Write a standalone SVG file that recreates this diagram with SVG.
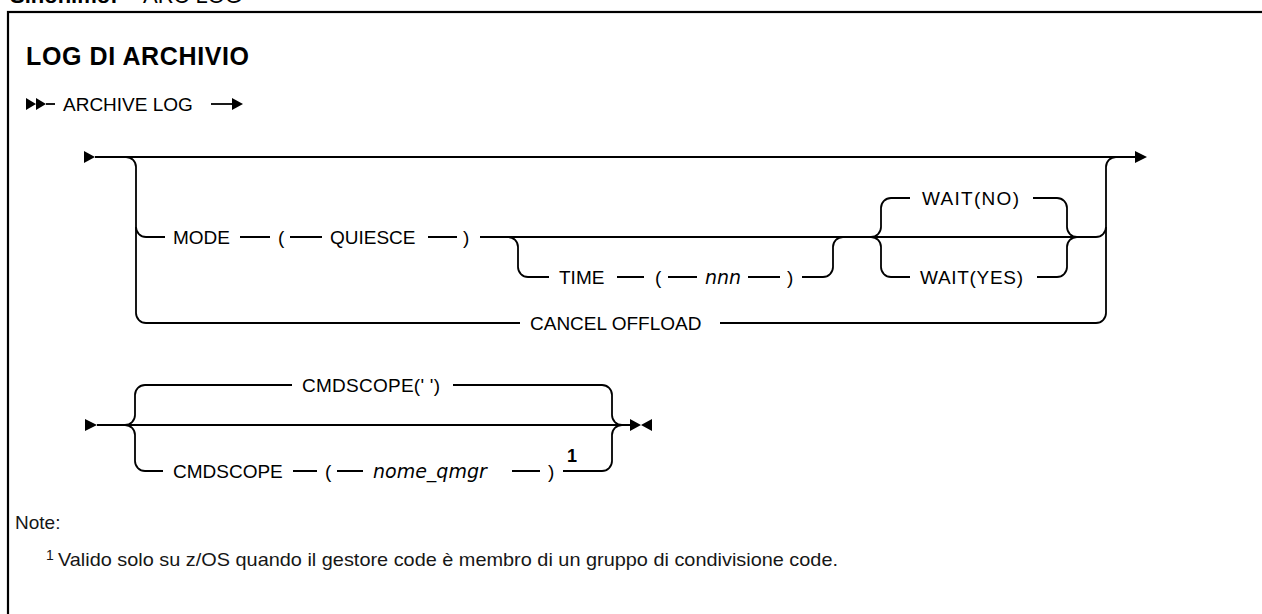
<svg xmlns="http://www.w3.org/2000/svg" width="1262" height="614" viewBox="0 0 1262 614">
<style>
.t{font-family:"Liberation Sans",Arial,sans-serif;font-size:19px;fill:#000}
.i{font-family:"DejaVu Sans",sans-serif;font-style:italic;font-size:19px;fill:#000}
.b{font-weight:bold}
.n{font-family:"Liberation Sans",Arial,sans-serif;font-size:19px;fill:#161616}
.c{fill:none;stroke:#000;stroke-width:1.8}
.h{fill:#000}
</style>
<rect x="8" y="12" width="1262" height="620" fill="none" stroke="#000" stroke-width="2.2"/>
<g id="synonym">
<text x="10" y="3" class="t b" style="font-size:22px">Sinonimo:</text>
<text x="143" y="3" class="t" style="font-size:22px">ARC LOG</text>
</g>
<g id="title"><text x="26" y="65" class="t b" style="font-size:25px" textLength="223">LOG DI ARCHIVIO</text></g>
<g id="connectors">
<path class="h" d="M26,98 L36,104 L26,110 Z M36,98 L46,104 L36,110 Z"/>
<path class="c" d="M46,104 H55"/>
<path class="c" d="M211,104 H233"/>
<path class="h" d="M232,98 L243,104 L232,110 Z"/>
<path class="h" d="M84,151 L95,157 L84,163 Z"/>
<path class="c" d="M95,157 H1136"/>
<path class="h" d="M1135,151 L1147,157 L1135,163 Z"/>
<path class="c" d="M126,157 A10,10 0 0 1 136,167 V313 A10,10 0 0 0 146,323 H520"/>
<path class="c" d="M720,323 H1096 A10,10 0 0 0 1106,313 V167 A10,10 0 0 1 1116,157"/>
<path class="c" d="M136,227 A10,10 0 0 0 146,237 H165"/>
<path class="c" d="M240,237 H270 M290,237 H322 M428,237 H457"/>
<path class="c" d="M480,237 H1096 A10,10 0 0 0 1106,227"/>
<path class="c" d="M508,237 A10,10 0 0 1 518,247 V267 A10,10 0 0 0 528,277 H549"/>
<path class="c" d="M617,277 H644 M668,277 H697 M748,277 H780"/>
<path class="c" d="M802,277 H823 A10,10 0 0 0 833,267 V247 A10,10 0 0 1 843,237"/>
<path class="c" d="M871,237 A10,10 0 0 0 881,227 V208 A10,10 0 0 1 891,198 H910"/>
<path class="c" d="M871,237 A10,10 0 0 1 881,247 V267 A10,10 0 0 0 891,277 H910"/>
<path class="c" d="M1033,198 H1057 A10,10 0 0 1 1067,208 V227 A10,10 0 0 0 1077,237"/>
<path class="c" d="M1037,277 H1057 A10,10 0 0 0 1067,267 V247 A10,10 0 0 1 1077,237"/>
<path class="h" d="M85,419 L97,425 L85,431 Z"/>
<path class="c" d="M97,425 H631"/>
<path class="h" d="M630,419 L641,425 L630,431 Z M652,419 L641,425 L652,431 Z"/>
<path class="c" d="M125,425 A10,10 0 0 0 135,415 V395 A10,10 0 0 1 145,385 H292"/>
<path class="c" d="M453,385 H602 A10,10 0 0 1 612,395 V415 A10,10 0 0 0 622,425"/>
<path class="c" d="M125,425 A10,10 0 0 1 135,435 V461 A10,10 0 0 0 145,471 H163"/>
<path class="c" d="M293,471 H317 M337,471 H363 M512,471 H540"/>
<path class="c" d="M563,471 H602 A10,10 0 0 0 612,461 V435 A10,10 0 0 1 622,425"/>
</g>
<g id="archive-log"><text x="63" y="111" class="t">ARCHIVE LOG</text></g>
<g id="mode">
<text x="173" y="244" class="t">MODE</text>
<text x="278" y="244" class="t">(</text>
<text x="330" y="244" class="t">QUIESCE</text>
<text x="463" y="244" class="t">)</text>
</g>
<g id="time">
<text x="559" y="284" class="t">TIME</text>
<text x="655" y="284" class="t">(</text>
<text x="705" y="284" class="i">nnn</text>
<text x="787" y="284" class="t">)</text>
</g>
<g id="wait-no"><text x="922" y="205" class="t" textLength="97">WAIT(NO)</text></g>
<g id="wait-yes"><text x="920" y="284" class="t" textLength="103">WAIT(YES)</text></g>
<g id="cancel-offload"><text x="530" y="330" class="t">CANCEL OFFLOAD</text></g>
<g id="cmdscope-default"><text x="302" y="392" class="t" textLength="138">CMDSCOPE(' ')</text></g>
<g id="cmdscope-qmgr">
<text x="173" y="478" class="t">CMDSCOPE</text>
<text x="325" y="478" class="t">(</text>
<text x="373" y="478" class="i">nome_qmgr</text>
<text x="548" y="478" class="t">)</text>
<text x="567" y="462" class="t b" style="font-size:18px">1</text>
</g>
<g id="notes">
<text x="15" y="529" class="n">Note:</text>
<text x="46" y="560" class="n" style="font-size:14px">1</text>
<text x="58" y="566" class="n" textLength="780" lengthAdjust="spacingAndGlyphs">Valido solo su z/OS quando il gestore code è membro di un gruppo di condivisione code.</text>
</g>
</svg>
